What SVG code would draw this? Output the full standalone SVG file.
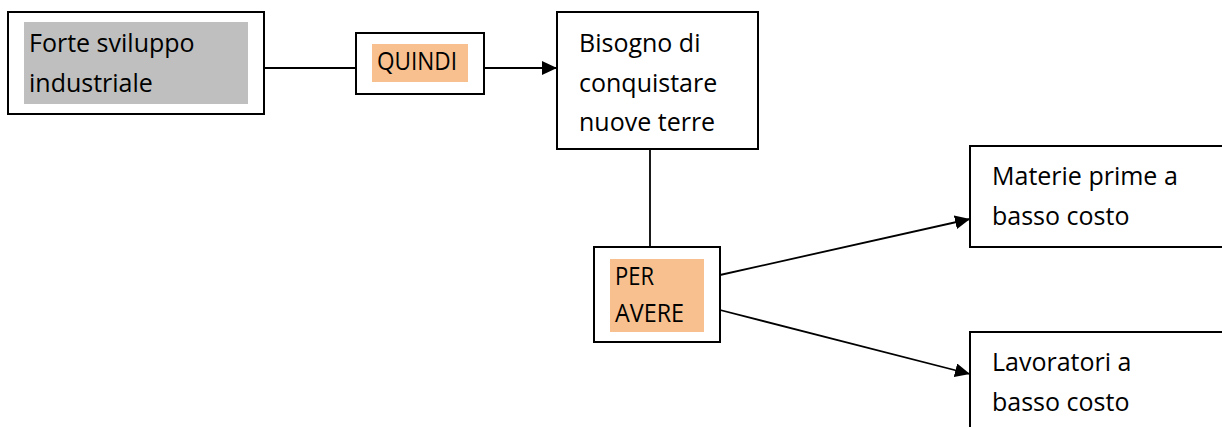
<svg xmlns="http://www.w3.org/2000/svg" width="1222" height="427" viewBox="0 0 1222 427">
  <style>
    .box { fill: #ffffff; stroke: #000000; stroke-width: 2; }
    .gray { fill: #bfbfbf; }
    .orange { fill: #f8c08f; }
    .t { font-family: "Open Sans", "Liberation Sans", Arial, sans-serif; font-size: 25px; fill: #000000; }
    .conn { fill: none; stroke: #000000; stroke-width: 1.8; }
  </style>
  <defs>
    <marker id="arrow" viewBox="0 0 15 14" refX="15" refY="7" markerWidth="15" markerHeight="14" markerUnits="userSpaceOnUse" orient="auto">
      <path d="M0,0 L15,7 L0,14 z" fill="#000000"/>
    </marker>
  </defs>
  <rect width="1222" height="427" fill="#ffffff"/>

  <g id="connectors">
    <line class="conn" x1="264" y1="68" x2="356" y2="68"/>
    <line class="conn" x1="484" y1="68" x2="557" y2="68" marker-end="url(#arrow)"/>
    <line class="conn" x1="650" y1="150" x2="650" y2="247"/>
    <line class="conn" x1="720" y1="275" x2="970" y2="219" marker-end="url(#arrow)"/>
    <line class="conn" x1="720" y1="310" x2="970" y2="374" marker-end="url(#arrow)"/>
  </g>

  <g id="node-forte">
    <rect class="box" x="8" y="12" width="256" height="102"/>
    <rect class="gray" x="24" y="22" width="224" height="82"/>
    <text class="t" x="29" y="52">Forte sviluppo</text>
    <text class="t" x="29" y="92">industriale</text>
  </g>

  <g id="node-quindi">
    <rect class="box" x="356" y="33" width="128" height="61"/>
    <rect class="orange" x="372" y="44" width="96" height="38"/>
    <text class="t" x="377" y="70" textLength="80" lengthAdjust="spacingAndGlyphs">QUINDI</text>
  </g>

  <g id="node-bisogno">
    <rect class="box" x="557" y="12" width="201" height="137"/>
    <text class="t" x="579" y="52">Bisogno di</text>
    <text class="t" x="579" y="92">conquistare</text>
    <text class="t" x="579" y="131">nuove terre</text>
  </g>

  <g id="node-peravere">
    <rect class="box" x="594" y="247" width="126" height="95"/>
    <rect class="orange" x="610" y="259" width="94" height="73"/>
    <text class="t" x="615" y="285" textLength="39" lengthAdjust="spacingAndGlyphs">PER</text>
    <text class="t" x="615" y="322" textLength="69" lengthAdjust="spacingAndGlyphs">AVERE</text>
  </g>

  <g id="node-materie">
    <rect class="box" x="970" y="146" width="270" height="101"/>
    <text class="t" x="992" y="185">Materie prime a</text>
    <text class="t" x="992" y="225">basso costo</text>
  </g>

  <g id="node-lavoratori">
    <rect class="box" x="970" y="332" width="270" height="120"/>
    <text class="t" x="992" y="371">Lavoratori a</text>
    <text class="t" x="992" y="411">basso costo</text>
  </g>
</svg>
